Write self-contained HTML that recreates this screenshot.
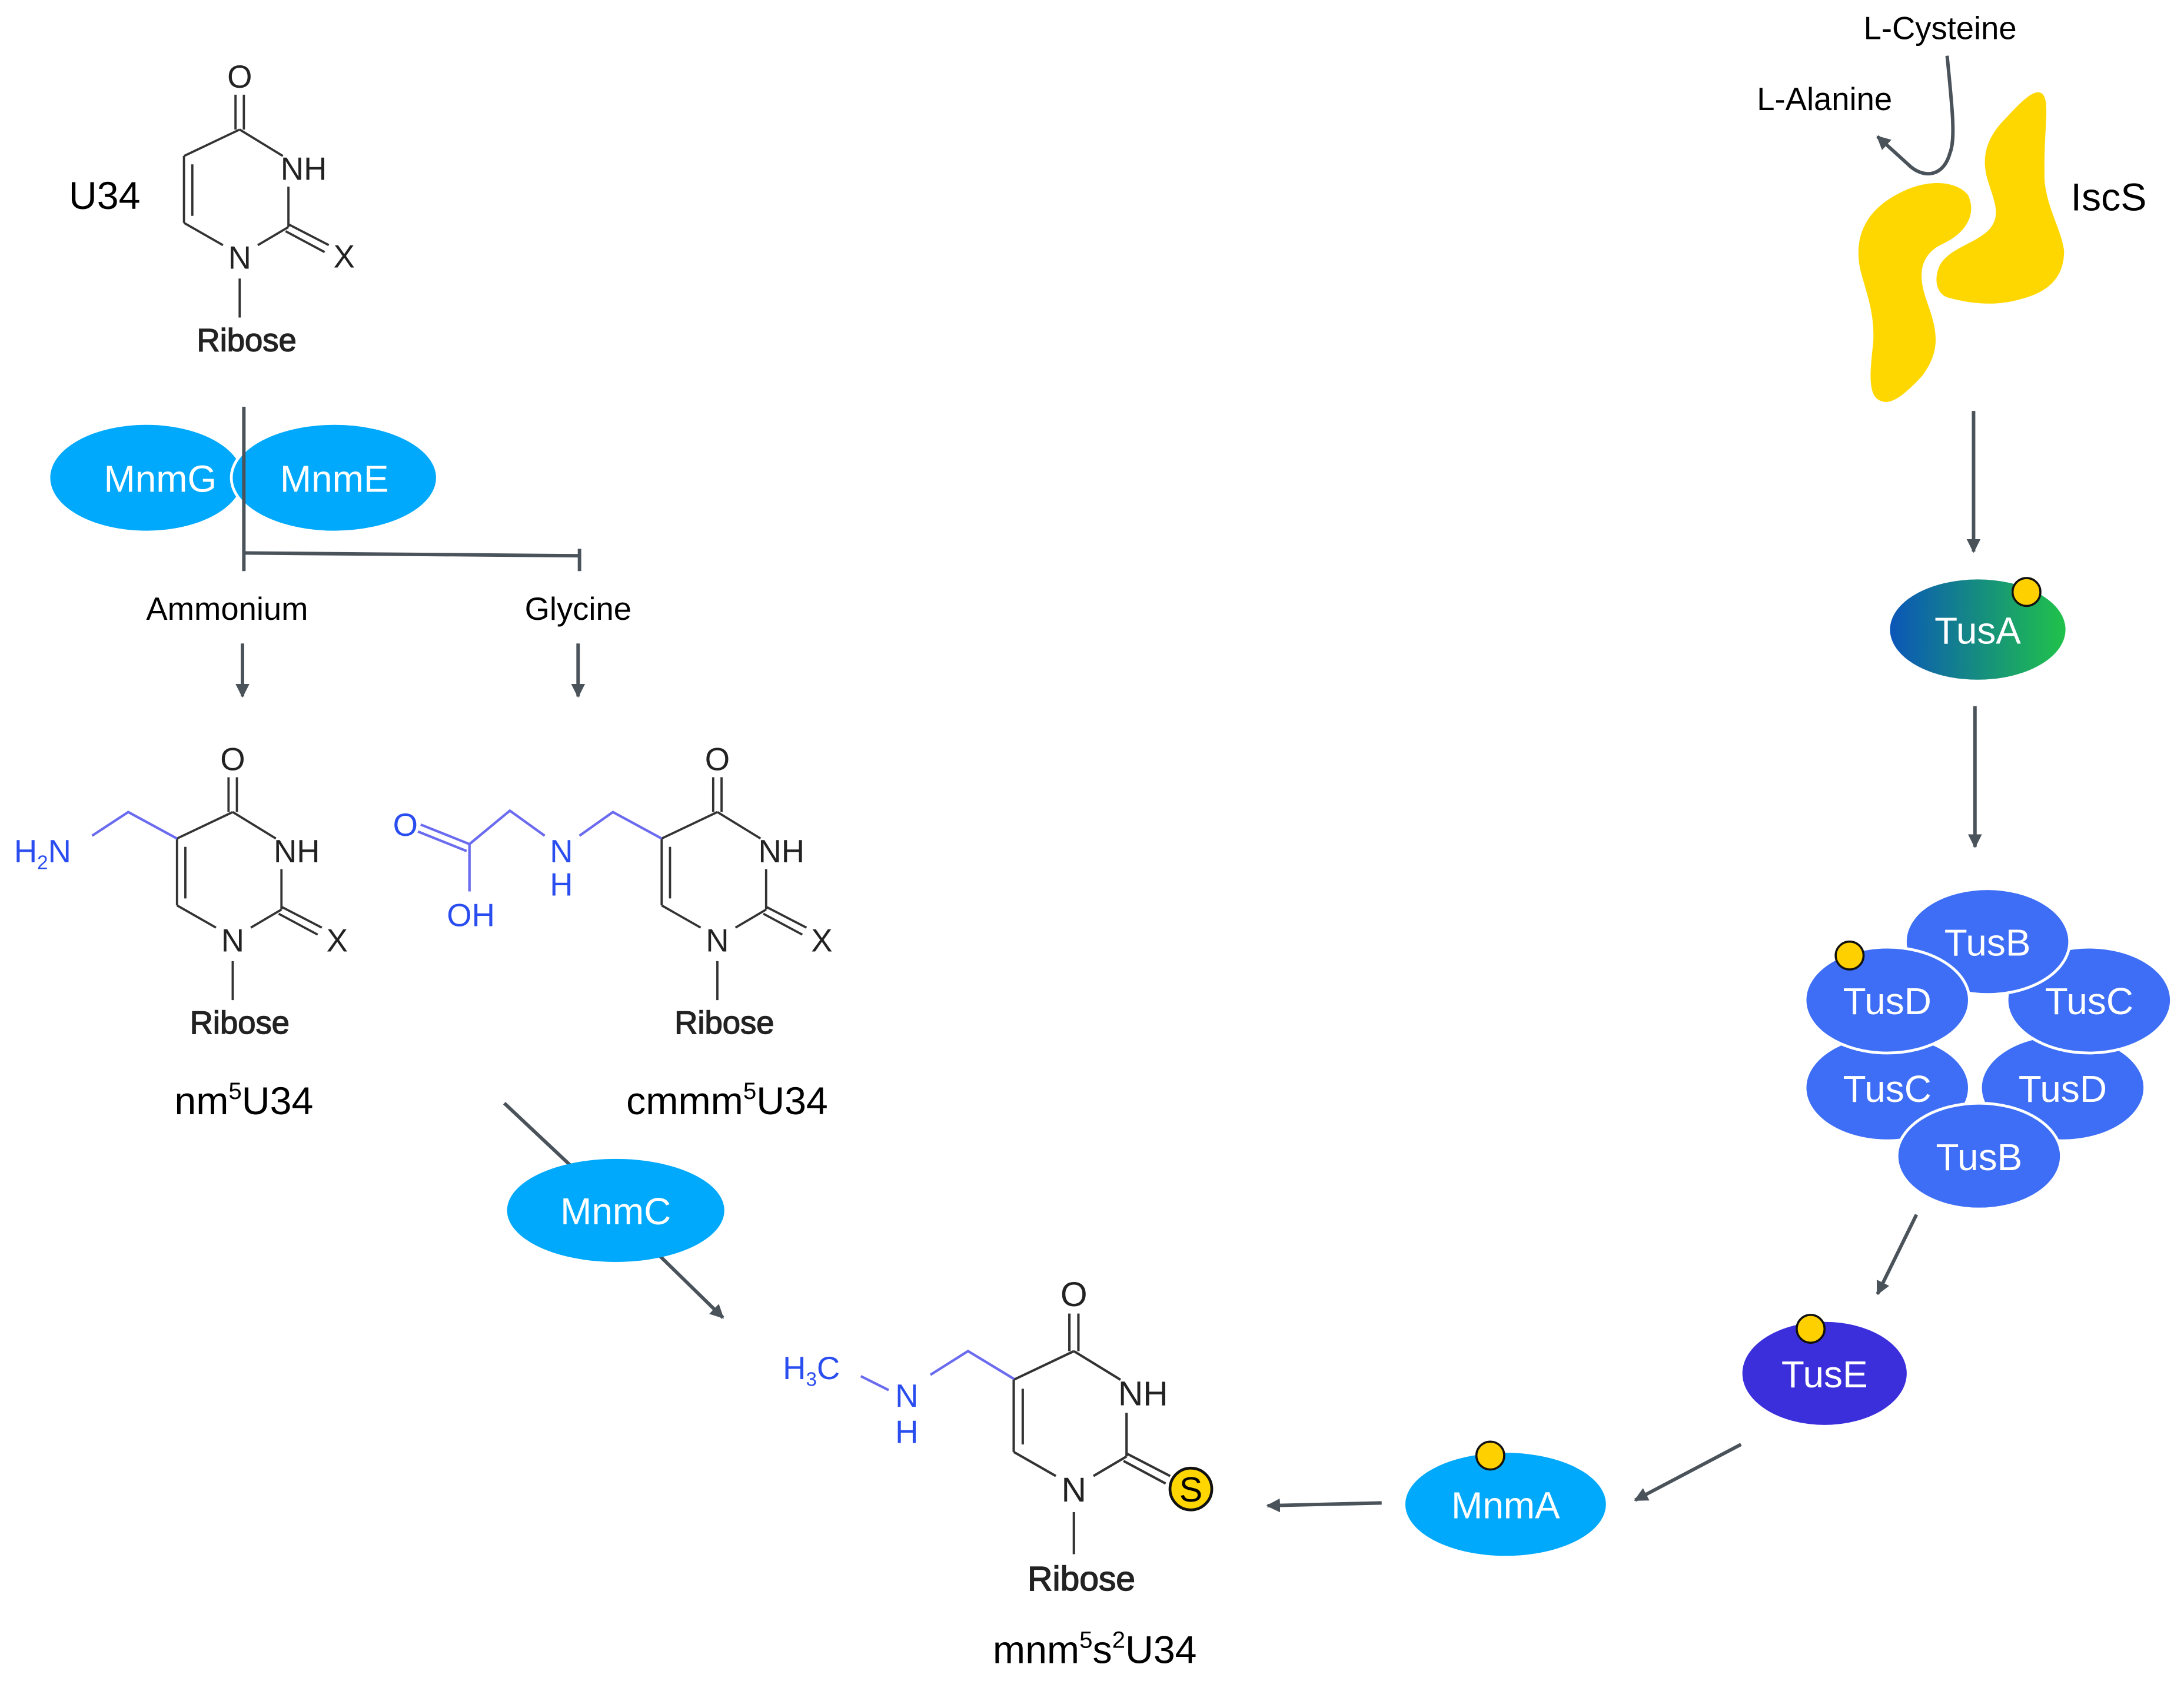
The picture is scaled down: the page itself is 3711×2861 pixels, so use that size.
<!DOCTYPE html>
<html><head><meta charset="utf-8"><style>html,body{margin:0;padding:0;background:#fff}svg{display:block}</style></head>
<body>
<svg width="3711" height="2861" viewBox="0 0 1568 1209" xmlns="http://www.w3.org/2000/svg" font-family="Liberation Sans, Arial, sans-serif">
<defs>
<marker id="ah" viewBox="0 0 10 10" refX="9" refY="5" markerWidth="4" markerHeight="4" orient="auto-start-reverse"><path d="M0,0 L10,5 L0,10 z" fill="#4a525a"/></marker>
<linearGradient id="tg" x1="0" x2="1" y1="0" y2="0"><stop offset="0" stop-color="#0b56b8"/><stop offset="1" stop-color="#20c24a"/></linearGradient>
<g id="ring">
<g stroke="#333" stroke-width="1.6" fill="none">
<line x1="169" y1="68" x2="169" y2="93"/><line x1="175" y1="68" x2="175" y2="93"/>
<line x1="172" y1="93" x2="203" y2="112"/>
<line x1="207" y1="134" x2="207" y2="163"/>
<line x1="207" y1="163" x2="185" y2="176"/>
<line x1="160" y1="176" x2="132" y2="160"/>
<line x1="132" y1="160" x2="132" y2="112"/><line x1="138" y1="155" x2="138" y2="118"/>
<line x1="132" y1="112" x2="172" y2="93"/>
<line x1="172" y1="200" x2="172" y2="228"/>
</g>
<g fill="#222" font-size="23">
<text x="172" y="63" text-anchor="middle">O</text>
<text x="218" y="129" text-anchor="middle">NH</text>
<text x="172" y="193" text-anchor="middle">N</text>
<text x="177" y="252" text-anchor="middle" font-size="23" stroke="#222" stroke-width="0.6">Ribose</text>
</g>
</g>
<g id="xbond" stroke="#333" stroke-width="1.6"><line x1="207" y1="161" x2="236" y2="176"/><line x1="205" y1="166" x2="233" y2="181"/></g>
</defs>

<!-- U34 -->
<text x="75" y="150" font-size="28" text-anchor="middle">U34</text>
<use href="#ring"/><use href="#xbond"/>
<text x="247" y="192" font-size="23" text-anchor="middle" fill="#222">X</text>

<!-- MnmG/MnmE -->
<ellipse cx="105" cy="343" rx="69" ry="38" fill="#00a9fb"/>
<text x="115" y="353" font-size="27" fill="#fff" text-anchor="middle">MnmG</text>
<ellipse cx="240" cy="343" rx="74" ry="39" fill="#00a9fb" stroke="#fff" stroke-width="2"/>
<text x="240" y="353" font-size="27" fill="#fff" text-anchor="middle">MnmE</text>
<g stroke="#4a525a" stroke-width="2.5" fill="none">
<line x1="175" y1="292" x2="175" y2="410"/>
<line x1="175" y1="397" x2="416" y2="399"/>
<line x1="416" y1="394" x2="416" y2="410"/>
<line x1="174" y1="462" x2="174" y2="500" marker-end="url(#ah)"/>
<line x1="415" y1="462" x2="415" y2="500" marker-end="url(#ah)"/>
<line x1="362" y1="792" x2="412" y2="839"/>
<line x1="474" y1="902" x2="519" y2="946" marker-end="url(#ah)"/>
<line x1="1417" y1="295" x2="1417" y2="396" marker-end="url(#ah)"/>
<line x1="1418" y1="507" x2="1418" y2="608" marker-end="url(#ah)"/>
<line x1="1376" y1="872" x2="1348" y2="929" marker-end="url(#ah)"/>
<line x1="1250" y1="1037" x2="1174" y2="1077" marker-end="url(#ah)"/>
<line x1="992" y1="1079" x2="910" y2="1081" marker-end="url(#ah)"/>
<path d="M1398,40 C1402,80 1404,100 1400,110 C1395,128 1380,128 1370,118 L1348,98" marker-end="url(#ah)"/>
</g>
<text x="163" y="445" font-size="23" text-anchor="middle">Ammonium</text>
<text x="415" y="445" font-size="23" text-anchor="middle">Glycine</text>

<!-- nm5U34 -->
<g transform="translate(-5,490)"><use href="#ring"/><use href="#xbond"/><text x="247" y="193" font-size="23" text-anchor="middle" fill="#222">X</text></g>
<polyline points="127,602 92,583 66,600" fill="none" stroke="#6b6bf0" stroke-width="1.8"/>
<text x="10" y="619" font-size="23" fill="#2a4df0">H<tspan font-size="14" dy="5">2</tspan><tspan dy="-5">N</tspan></text>
<text x="175" y="800" font-size="28" text-anchor="middle">nm<tspan font-size="17" dy="-11">5</tspan><tspan dy="11">U34</tspan></text>

<!-- cmmm5U34 -->
<g transform="translate(343,490)"><use href="#ring"/><use href="#xbond"/><text x="247" y="193" font-size="23" text-anchor="middle" fill="#222">X</text></g>
<g fill="none" stroke="#6b6bf0" stroke-width="1.8">
<polyline points="475,602 440,583 416,600"/>
<polyline points="391,600 366,582 337,606"/>
<line x1="337" y1="606" x2="302" y2="592"/><line x1="335" y1="611" x2="300" y2="597"/>
<line x1="337" y1="606" x2="337" y2="640"/>
</g>
<g fill="#2a4df0" font-size="23" text-anchor="middle">
<text x="291" y="600">O</text><text x="338" y="665">OH</text>
<text x="403" y="619">N</text><text x="403" y="643">H</text>
</g>
<text x="522" y="800" font-size="28" text-anchor="middle">cmmm<tspan font-size="17" dy="-11">5</tspan><tspan dy="11">U34</tspan></text>

<!-- MnmC -->
<ellipse cx="442" cy="869" rx="78" ry="37" fill="#00a9fb"/>
<text x="442" y="879" font-size="27" fill="#fff" text-anchor="middle">MnmC</text>

<!-- mnm5s2U34 -->
<g transform="translate(771,929) scale(1.08) translate(-172,-55)"><use href="#ring"/><use href="#xbond"/></g>
<circle cx="855" cy="1069" r="15" fill="#ffd600" stroke="#111" stroke-width="2"/>
<text x="855" y="1078" font-size="25" text-anchor="middle">S</text>
<g fill="none" stroke="#6b6bf0" stroke-width="1.8"><polyline points="728,990 695,970 668,987"/><line x1="638" y1="998" x2="618" y2="988"/></g>
<g fill="#2a4df0" font-size="23" text-anchor="middle">
<text x="651" y="1010">N</text><text x="651" y="1036">H</text>
</g>
<text x="562" y="990" font-size="23" fill="#2a4df0">H<tspan font-size="14" dy="5">3</tspan><tspan dy="-5">C</tspan></text>
<text x="786" y="1194" font-size="28" text-anchor="middle">mnm<tspan font-size="17" dy="-11">5</tspan><tspan dy="11">s</tspan><tspan font-size="17" dy="-11">2</tspan><tspan dy="11">U34</tspan></text>

<!-- IscS -->
<text x="1393" y="28" font-size="23" text-anchor="middle">L-Cysteine</text>
<text x="1310" y="79" font-size="23" text-anchor="middle">L-Alanine</text>
<text x="1514" y="151" font-size="28" text-anchor="middle">IscS</text>
<path d="M1351,288 C1340,285 1343,265 1345,245 C1346,225 1340,210 1336,195 C1330,170 1340,150 1365,138 C1385,128 1405,130 1413,140 C1420,155 1410,168 1395,175 C1380,182 1376,195 1383,215 C1390,235 1395,250 1380,270 C1368,283 1358,291 1351,288 Z" fill="#ffd700"/>
<path d="M1400,214 C1390,212 1388,200 1393,190 C1400,178 1418,175 1428,165 C1437,155 1432,145 1428,132 C1422,115 1425,100 1440,85 C1452,72 1462,62 1467,68 C1472,75 1467,95 1468,130 C1470,150 1480,165 1482,180 C1482,200 1470,210 1450,215 C1432,220 1415,218 1400,214 Z" fill="#ffd700"/>

<!-- TusA -->
<ellipse cx="1420" cy="452" rx="63" ry="36" fill="url(#tg)"/>
<text x="1420" y="462" font-size="27" fill="#fff" text-anchor="middle">TusA</text>
<circle cx="1455" cy="425" r="10" fill="#ffd000" stroke="#111" stroke-width="1.5"/>

<!-- Tus complex -->
<g fill="#3d6ef5" stroke="#fff" stroke-width="2">
<ellipse cx="1481" cy="781" rx="59" ry="38"/>
<ellipse cx="1500" cy="718" rx="59" ry="38"/>
<ellipse cx="1427" cy="676" rx="59" ry="38"/>
<ellipse cx="1355" cy="781" rx="59" ry="38"/>
<ellipse cx="1355" cy="718" rx="59" ry="38"/>
<ellipse cx="1421" cy="830" rx="59" ry="38"/>
</g>
<g font-size="27" fill="#fff" text-anchor="middle">
<text x="1427" y="686">TusB</text><text x="1355" y="728">TusD</text><text x="1500" y="728">TusC</text>
<text x="1355" y="791">TusC</text><text x="1481" y="791">TusD</text><text x="1421" y="840">TusB</text>
</g>
<circle cx="1328" cy="686" r="10" fill="#ffd000" stroke="#111" stroke-width="1.5"/>

<!-- TusE -->
<ellipse cx="1310" cy="986" rx="59" ry="37" fill="#3b2fdc"/>
<text x="1310" y="996" font-size="27" fill="#fff" text-anchor="middle">TusE</text>
<circle cx="1300" cy="954" r="10" fill="#ffd000" stroke="#111" stroke-width="1.5"/>

<!-- MnmA -->
<ellipse cx="1081" cy="1080" rx="72" ry="37" fill="#00a9fb"/>
<text x="1081" y="1090" font-size="27" fill="#fff" text-anchor="middle">MnmA</text>
<circle cx="1070" cy="1045" r="10" fill="#ffd000" stroke="#111" stroke-width="1.5"/>
</svg>
</body></html>
